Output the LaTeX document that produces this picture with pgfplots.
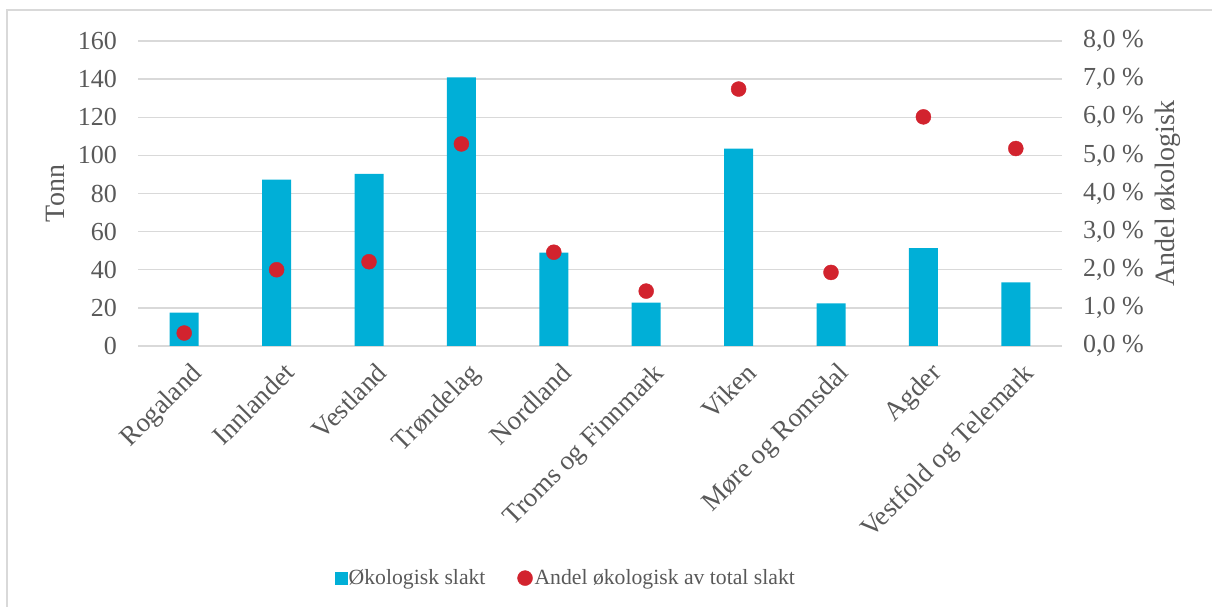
\documentclass[border=0pt]{standalone}
\usepackage{pgfplots}
\pgfplotsset{compat=1.18}
\usepackage{fontspec}
\setmainfont{Liberation Serif}
\definecolor{barblue}{HTML}{00AFD7}
\definecolor{dotred}{HTML}{D2232E}
\definecolor{txt}{HTML}{595959}
\definecolor{gridc}{HTML}{D9D9D9}
\begin{document}
\begin{tikzpicture}[x=1pt,y=1pt]
\useasboundingbox (0,0) rectangle (1212,607);
\draw[gridc, line width=1.3pt] (7,0) -- (7,597) -- (1212,597);
\begin{axis}[
  at={(138pt,261pt)}, anchor=south west,
  scale only axis, width=924pt, height=305pt,
  xmin=-0.5, xmax=9.5, ymin=0, ymax=160,
  axis line style={draw=none},
  major tick length=0pt,
  ymajorgrids, grid style={gridc, line width=1.3pt},
  ytick={0,20,...,160},
  /pgf/number format/assume math mode=true,
  xtick={0,...,9},
  xticklabels={Rogaland,Innlandet,Vestland,Trøndelag,Nordland,Troms og Finnmark,Viken,Møre og Romsdal,Agder,Vestfold og Telemark},
  x tick label style={xshift=6pt, yshift=-15pt, rotate=45, anchor=north east, inner sep=0pt, font=\fontsize{27}{32}\selectfont, text=txt},
  y tick label style={anchor=east, inner sep=0pt, xshift=-21pt, font=\fontsize{26}{30}\selectfont, text=txt},
  ylabel={Tonn},
  ylabel style={at={(axis description cs:-0.0898,0.5)}, anchor=center, font=\fontsize{28}{32}\selectfont, text=txt},
]
\addplot[ybar, bar width=29pt, bar shift=0pt, fill=barblue, draw=none] coordinates {
(0,17.5) (1,87.3) (2,90.3) (3,140.9) (4,49.0) (5,22.8) (6,103.6) (7,22.3) (8,51.3) (9,33.4)};
\end{axis}
\begin{axis}[
  at={(138pt,261pt)}, anchor=south west,
  scale only axis, width=924pt, height=305pt,
  xmin=-0.5, xmax=9.5, ymin=0, ymax=8,
  hide x axis,
  axis y line*=right,
  axis line style={draw=none},
  major tick length=0pt,
  ytick={0,1,...,8},
  yticklabels={{0,0 \%},{1,0 \%},{2,0 \%},{3,0 \%},{4,0 \%},{5,0 \%},{6,0 \%},{7,0 \%},{8,0 \%}},
  y tick label style={anchor=west, inner sep=0pt, xshift=21pt, font=\fontsize{26}{30}\selectfont, text=txt},
  ylabel={Andel økologisk},
  ylabel style={at={(axis description cs:1.1147,0.5)}, anchor=center, font=\fontsize{28}{32}\selectfont, text=txt},
  legend columns=2,
  legend style={at={(axis description cs:0.463,-0.761)}, anchor=center, draw=none, fill=none,
    font=\fontsize{21.7}{26}\selectfont, text=txt,
    /tikz/every even column/.append style={column sep=30pt}},
  legend cell align=left,
]
\addlegendimage{only marks, mark=square*, mark size=6pt, barblue, draw=barblue}
\addlegendentry{Økologisk slakt}
\addplot[only marks, mark=*, mark size=7.5pt, dotred, draw=dotred] coordinates {
(0,0.34) (1,2.00) (2,2.21) (3,5.30) (4,2.46) (5,1.44) (6,6.74) (7,1.93) (8,6.01) (9,5.18)};
\addlegendentry{Andel økologisk av total slakt}
\end{axis}
\end{tikzpicture}
\end{document}
